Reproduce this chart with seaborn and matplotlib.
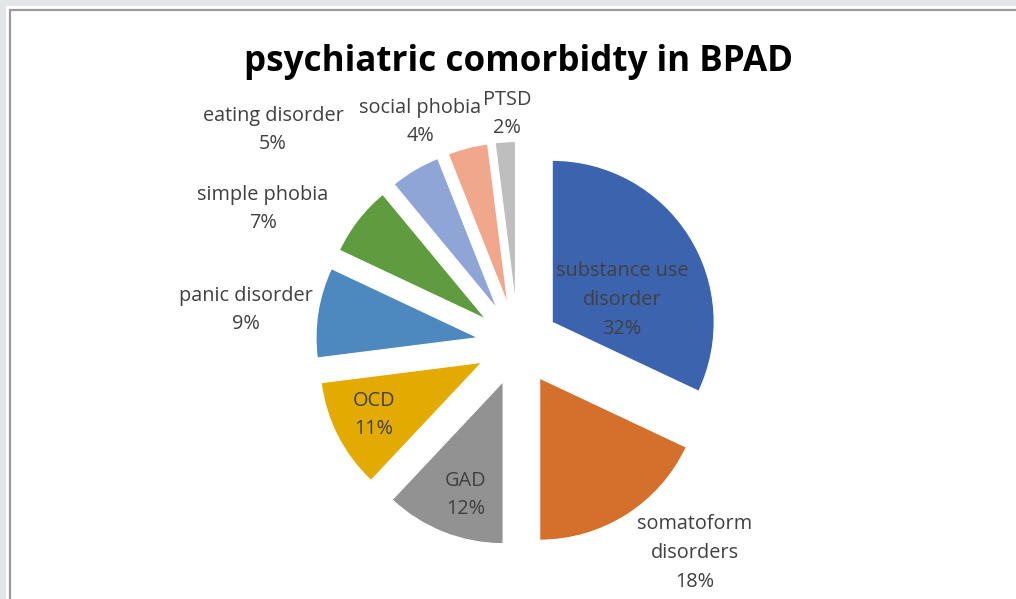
import matplotlib
matplotlib.use("Agg")
import matplotlib.pyplot as plt
import seaborn as sns
from matplotlib.patches import Rectangle

categories = ["substance use\ndisorder", "somatoform\ndisorders", "GAD", "OCD",
              "panic disorder", "simple phobia", "eating disorder", "social phobia", "PTSD"]
values = [32, 18, 12, 11, 9, 7, 5, 4, 2]
colors = ["#3C64AE", "#D46F2C", "#929292", "#E3AA00", "#4D88BF",
          "#5F9B3F", "#8FA5D6", "#F1A78B", "#BEBEBE"]
# label positions in pixels (x, y from top)
label_px = [(622, 300), (695, 553), (466, 495), (374, 415), (246, 310),
            (263, 209), (273, 130), (420, 122), (507, 114)]

sns.set_theme(style="white")
plt.rcParams['font.family'] = ['Open Sans', 'DejaVu Sans']

W, H = 1016, 599
CX, CY, R = 518, 344, 162

fig = plt.figure(figsize=(W / 100, H / 100), dpi=100)
fig.patch.set_facecolor("#E2E6E7")
bg = fig.add_axes([0, 0, 1, 1])
bg.set_xlim(0, W); bg.set_ylim(H, 0); bg.axis("off")
bg.add_patch(Rectangle((6, 6), W, H, facecolor="white", edgecolor="none"))
bg.add_patch(Rectangle((10, 10), W, H, facecolor="white", edgecolor="#9A9A9A", linewidth=1.6))

ax = fig.add_axes([0, 0, 1, 1])
ax.set_facecolor("none")
ax.pie(values, colors=colors, startangle=90, counterclock=False, radius=1,
       explode=[0.25] * len(values), wedgeprops=dict(edgecolor="white", linewidth=0.8))
ax.set_xlim(-CX / R, (W - CX) / R)
ax.set_ylim(-(H - CY) / R, CY / R)
ax.set_aspect("auto")
ax.axis("off")

for cat, v, (px, py) in zip(categories, values, label_px):
    ax.text((px - CX) / R, (CY - py) / R, f"{cat}\n{v}%", ha="center", va="center",
            fontsize=14.3, color="#404040", linespacing=1.58)

fig.text(519 / W, 1 - 71 / H, "psychiatric comorbidty in BPAD", ha="center", va="baseline",
         fontsize=25.2, fontweight="bold", color="black")

fig.savefig("out.png", dpi=100)
